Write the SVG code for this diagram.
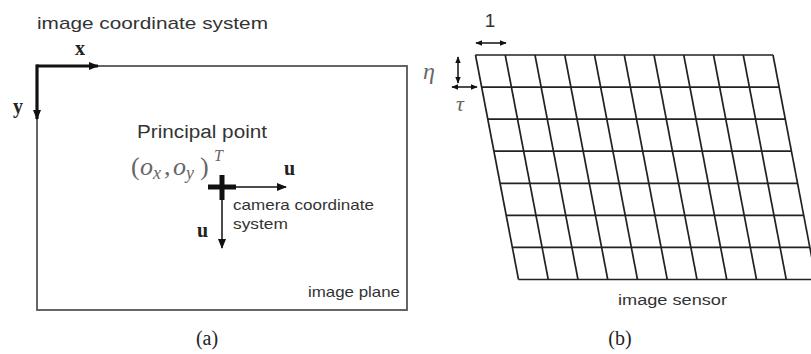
<svg xmlns="http://www.w3.org/2000/svg" width="811" height="354" viewBox="0 0 811 354">
<defs>
<style>
.sans{font-family:"Liberation Sans",Arial,sans-serif;fill:#333}
.serif{font-family:"Liberation Serif","Times New Roman",serif;fill:#222}
.math{font-family:"Liberation Serif","Times New Roman",serif;fill:#666;font-style:italic}
.frame{fill:none;stroke:#555;stroke-width:1.8}
.grid line{stroke:#222;stroke-width:1.7}
.thick{stroke:#111;stroke-width:3.2;fill:none}
.thin{stroke:#111;stroke-width:1.5;fill:none}
</style>
<marker id="ah" viewBox="0 0 10 8" refX="9" refY="4" markerWidth="10" markerHeight="8" markerUnits="userSpaceOnUse" orient="auto">
<path d="M0,0 L10,4 L0,8 z" fill="#111"/>
</marker>
<marker id="ahs" viewBox="0 0 10 8" refX="9" refY="4" markerWidth="7" markerHeight="6" markerUnits="userSpaceOnUse" orient="auto-start-reverse">
<path d="M0,0 L10,4 L0,8 z" fill="#111"/>
</marker>
</defs>
<rect width="811" height="354" fill="#fff"/>

<g id="image-plane">
<rect class="frame" x="37" y="66" width="370" height="244"/>
<text class="sans" x="37" y="29" font-size="17" textLength="231" lengthAdjust="spacingAndGlyphs">image coordinate system</text>
<text class="sans" x="137" y="138" font-size="18" textLength="130" lengthAdjust="spacingAndGlyphs">Principal point</text>
<text class="math" font-size="26"><tspan x="131" y="175" font-style="normal">(</tspan><tspan x="140" y="175">o</tspan><tspan x="153" y="179" font-size="18">x</tspan><tspan x="164" y="175" font-style="normal">,</tspan><tspan x="173" y="175">o</tspan><tspan x="186" y="179" font-size="18">y</tspan><tspan x="200" y="175" font-style="normal">)</tspan><tspan x="214" y="161" font-size="16">T</tspan></text>
<text class="sans" x="233" y="210" font-size="15" textLength="141" lengthAdjust="spacingAndGlyphs">camera coordinate</text>
<text class="sans" x="233" y="229" font-size="15" textLength="55" lengthAdjust="spacingAndGlyphs">system</text>
<text class="sans" x="308" y="297" font-size="14.5" textLength="92" lengthAdjust="spacingAndGlyphs">image plane</text>
<text class="serif" x="75" y="55" font-size="20" font-weight="bold">x</text>
<text class="serif" x="13" y="113" font-size="20" font-weight="bold">y</text>
<text class="serif" x="284" y="175" font-size="20" font-weight="bold">u</text>
<text class="serif" x="197" y="237" font-size="20" font-weight="bold">u</text>
<text class="serif" x="207" y="345" font-size="20" text-anchor="middle">(a)</text>
</g>

<g id="image-sensor">
<g class="grid">
<line x1="475.5" y1="55" x2="773" y2="55"/>
<line x1="481.64" y1="87.07" x2="779.14" y2="87.07"/>
<line x1="487.79" y1="119.14" x2="785.29" y2="119.14"/>
<line x1="493.93" y1="151.21" x2="791.43" y2="151.21"/>
<line x1="500.07" y1="183.29" x2="797.57" y2="183.29"/>
<line x1="506.21" y1="215.36" x2="803.71" y2="215.36"/>
<line x1="512.36" y1="247.43" x2="809.86" y2="247.43"/>
<line x1="518.5" y1="279.5" x2="816" y2="279.5"/>
<line x1="475.5" y1="55" x2="518.5" y2="279.5"/>
<line x1="505.25" y1="55" x2="548.25" y2="279.5"/>
<line x1="535" y1="55" x2="578" y2="279.5"/>
<line x1="564.75" y1="55" x2="607.75" y2="279.5"/>
<line x1="594.5" y1="55" x2="637.5" y2="279.5"/>
<line x1="624.25" y1="55" x2="667.25" y2="279.5"/>
<line x1="654" y1="55" x2="697" y2="279.5"/>
<line x1="683.75" y1="55" x2="726.75" y2="279.5"/>
<line x1="713.5" y1="55" x2="756.5" y2="279.5"/>
<line x1="743.25" y1="55" x2="786.25" y2="279.5"/>
<line x1="773" y1="55" x2="816" y2="279.5"/>
</g>
<text class="sans" x="490" y="27" font-size="19" text-anchor="middle" fill="#222">1</text>
<text class="math" x="423" y="79" font-size="24" fill="#555">η</text>
<text class="math" x="456" y="111" font-size="22" fill="#7a6a55">τ</text>
<text class="sans" x="618" y="305" font-size="15.5" textLength="109" lengthAdjust="spacingAndGlyphs">image sensor</text>
<text class="serif" x="620" y="345" font-size="20" text-anchor="middle">(b)</text>
</g>

<g id="connectors">
<line class="thick" x1="37" y1="66" x2="98" y2="66" marker-end="url(#ah)"/>
<line class="thick" x1="37" y1="64.4" x2="37" y2="119" marker-end="url(#ah)"/>
<line x1="208" y1="187" x2="236" y2="187" stroke="#111" stroke-width="5"/>
<line x1="222" y1="175" x2="222" y2="200" stroke="#111" stroke-width="5"/>
<line class="thin" x1="222" y1="187" x2="286" y2="187" marker-end="url(#ah)"/>
<line class="thin" x1="222" y1="187" x2="222" y2="248" marker-end="url(#ah)"/>
<line class="thin" x1="476" y1="43" x2="506" y2="43" marker-start="url(#ahs)" marker-end="url(#ahs)"/>
<line class="thin" x1="458" y1="57" x2="458" y2="83" marker-start="url(#ahs)" marker-end="url(#ahs)"/>
<line class="thin" x1="452" y1="87" x2="477" y2="87" marker-start="url(#ahs)" marker-end="url(#ahs)"/>
</g>
</svg>
